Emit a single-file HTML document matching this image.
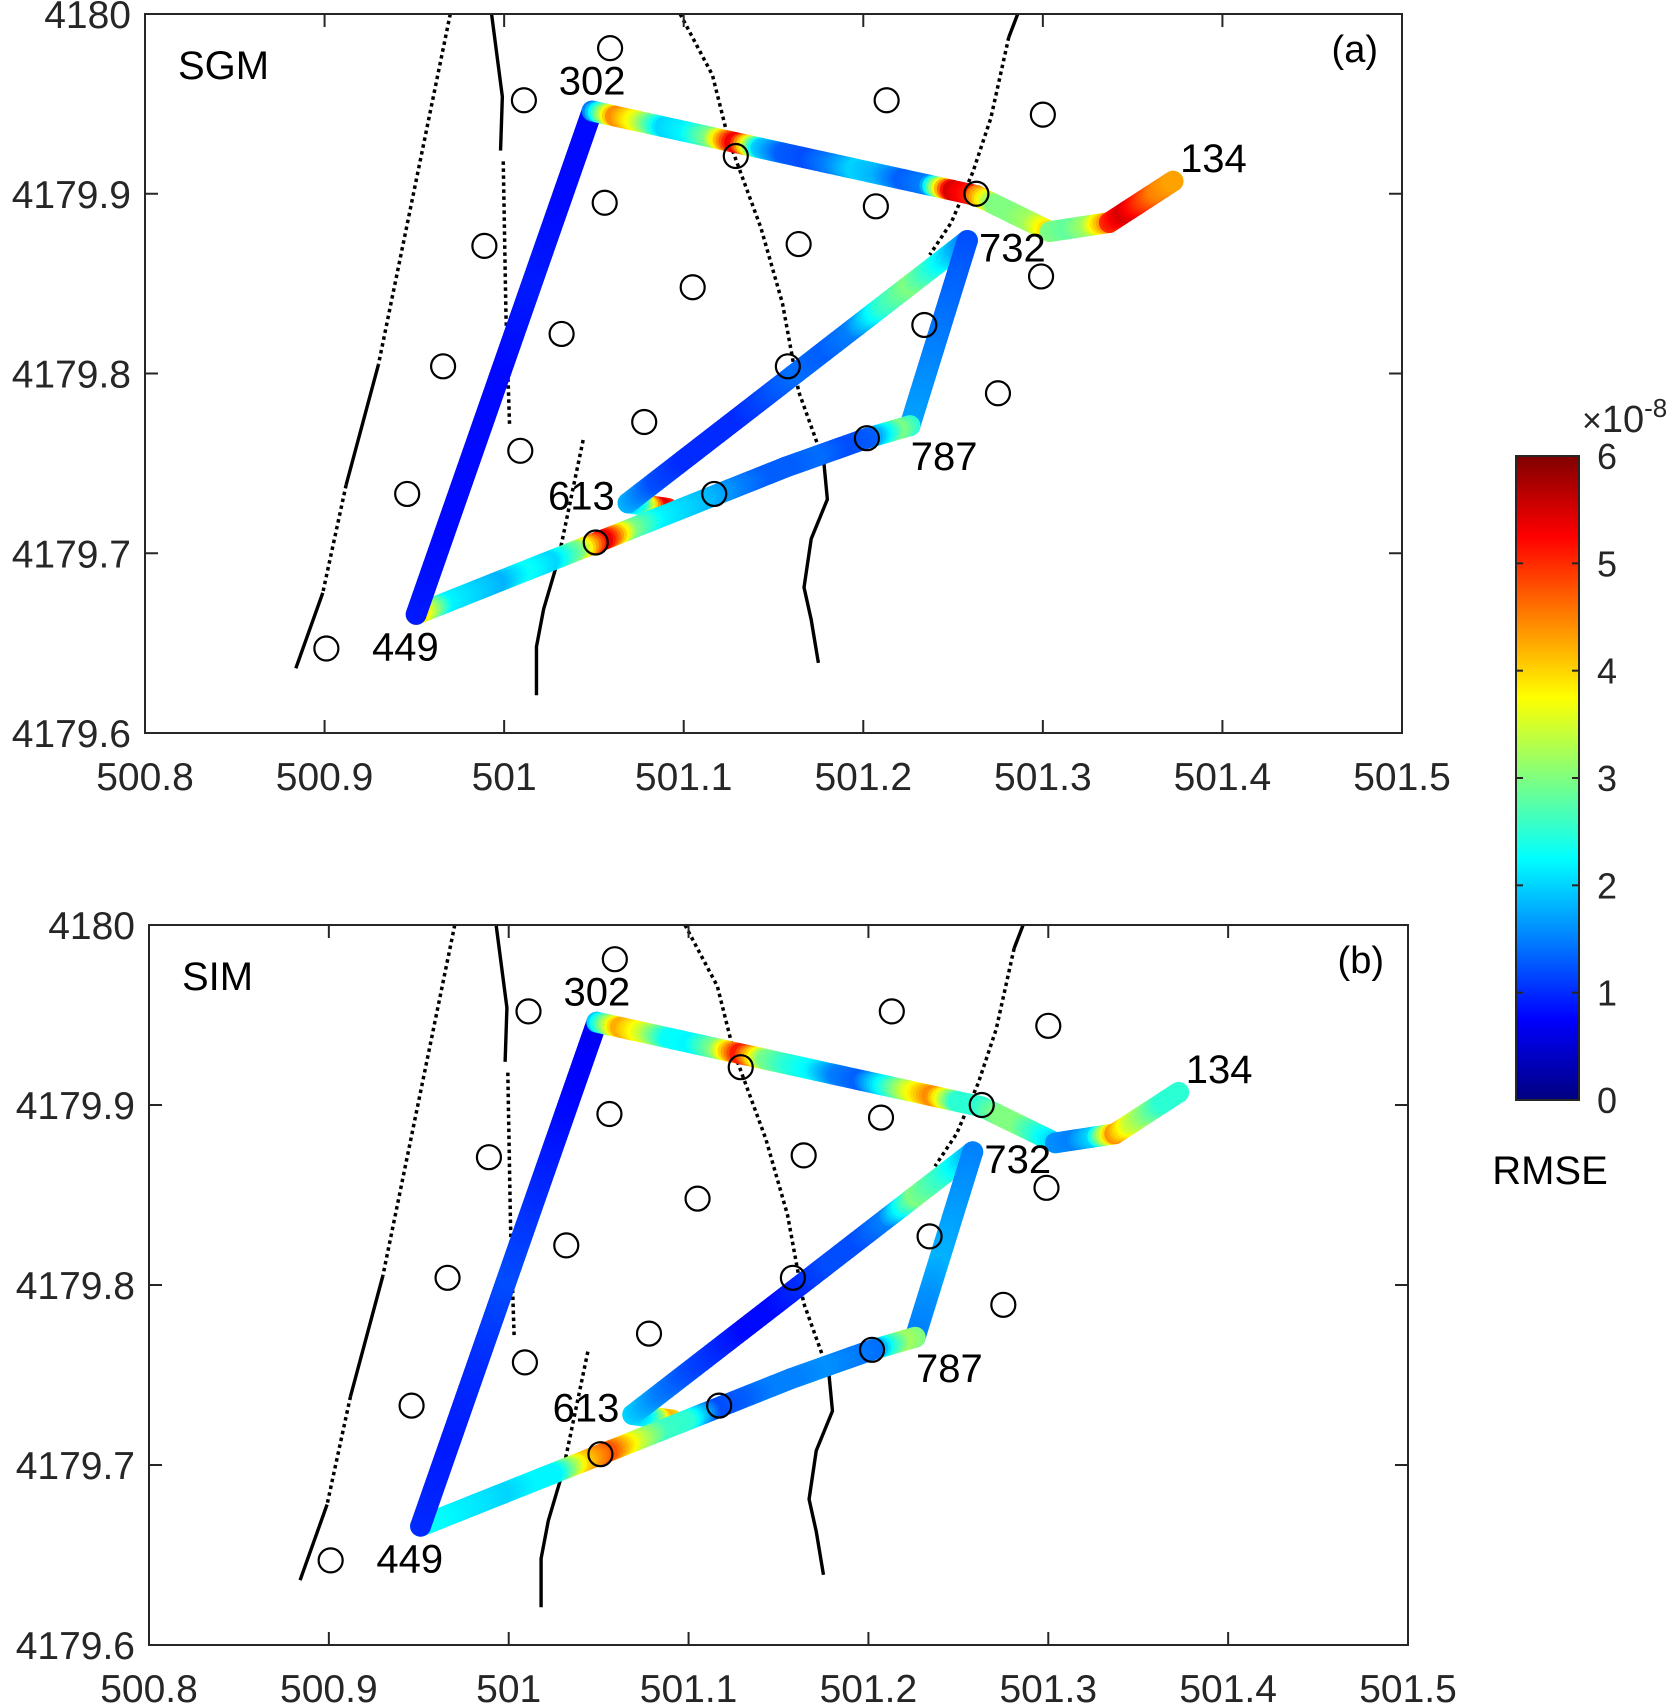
<!DOCTYPE html>
<html><head><meta charset="utf-8"><style>
body{margin:0;background:#fff}
svg{display:block}
text{font-family:"Liberation Sans",Arial,sans-serif}
</style></head><body>
<svg id="fig" width="1677" height="1705" viewBox="0 0 1677 1705" xmlns="http://www.w3.org/2000/svg">
</svg>
<script>
// ---- data ----
const xTicks = [500.8, 500.9, 501, 501.1, 501.2, 501.3, 501.4, 501.5];
const xTickLabels = ["500.8","500.9","501","501.1","501.2","501.3","501.4","501.5"];
const yTicks = [4179.6, 4179.7, 4179.8, 4179.9, 4180];
const yTickLabels = ["4179.6","4179.7","4179.8","4179.9","4180"];
const cbTicks = [0,1,2,3,4,5,6];
// track vertices (easting, northing)
const trackX = [501.091, 501.069, 501.258, 501.226, 501.202, 501.157, 500.951, 501.049, 501.263, 501.304, 501.337, 501.3725];
const trackY = [4179.725, 4179.728, 4179.874, 4179.771, 4179.764, 4179.748, 4179.666, 4179.946, 4179.899, 4179.879, 4179.884, 4179.907];
// RMSE (x1e-8) samples along each segment, panel a (SGM)
const rmseA = [
 [5,5.5,4,2.5,2],
 [1.8,1.2,1,1,1,1.2,1.4,1.3,1.5,2.5,3,2.3,1.5],
 [1.2,1.3,1.4,1.5,1.6,1.7],
 [2.5,3,2.2,1.5],
 [1.3,1.2,1.4,1.3],
 [1.3,1.3,1.5,1.8,2.0,2.2,3,5.5,3,2,2.3,1.8,2.0,2.2,4],
 [0.9,0.8,0.8,0.8,0.9,0.8,0.8],
 [1.5,4.5,3.5,2,2.2,3,5.5,2,1.3,1.2,1.5,2,1.8,1.3,1.5,5.5,5],
 [4.5,3,3,3.2,4],
 [3,2.8,3.2,4.5],
 [5,5.5,5,4.5,4.3]
];
// panel b (SIM)
const rmseB = [
 [4,4.2,3,2.2,2],
 [2,1.5,1.2,1,0.8,0.8,1,1.2,1.2,1.5,3,2.5,1.8],
 [1.5,1.6,1.7,1.8,1.6,1.5],
 [3,3.2,2.5,1.5],
 [1.4,1.5,1.6,1.5],
 [1.5,1.5,1.3,1.2,2.5,2.6,3.5,4.8,4,2.2,2.2,2,2.1,2.2,2.3],
 [1,0.9,1,1.2,1,0.8,0.7],
 [2,4.3,3.5,2.3,2.2,3,5.2,3,2.5,2.2,1.5,1.3,2.3,3.5,4.5,2.5,2.5],
 [2.5,3,3,2.5,2],
 [1.6,1.5,2,4.3],
 [4.4,3.5,3,2.5,2.5]
];
// stations
const stationX = [501.059,501.011,501.213,501.300,501.129,501.263,501.056,501.207,500.989,501.164,501.299,501.105,501.032,501.234,501.158,500.966,501.275,501.078,501.009,501.202,500.946,501.117,501.051,500.901];
const stationY = [4179.981,4179.952,4179.952,4179.944,4179.921,4179.900,4179.895,4179.893,4179.871,4179.872,4179.854,4179.848,4179.822,4179.827,4179.804,4179.804,4179.789,4179.773,4179.757,4179.764,4179.733,4179.733,4179.706,4179.647];
// point labels
const labelText = ["302","134","732","787","613","449"];
const labelX = [501.049,501.395,501.283,501.245,501.043,500.945];
const labelY = [4179.963,4179.920,4179.870,4179.754,4179.732,4179.648];
// fault lines: [style, xs, ys]
const faults = [
 ["dot",[500.970,500.930],[4180,4179.805]],
 ["solid",[500.930,500.912],[4179.805,4179.738]],
 ["dot",[500.912,500.899],[4179.738,4179.678]],
 ["solid",[500.899,500.884],[4179.678,4179.636]],
 ["solid",[500.993,500.999,500.998],[4180,4179.954,4179.924]],
 ["dot",[500.9995,501.001,501.003],[4179.918,4179.833,4179.772]],
 ["dot",[501.044,501.030],[4179.763,4179.696]],
 ["solid",[501.030,501.022,501.018,501.018],[4179.696,4179.669,4179.648,4179.621]],
 ["dot",[501.098,501.116,501.125,501.143,501.155,501.164,501.178],[4180,4179.966,4179.930,4179.881,4179.839,4179.790,4179.751]],
 ["solid",[501.178,501.180,501.171,501.167,501.171,501.175],[4179.751,4179.730,4179.708,4179.681,4179.663,4179.639]],
 ["solid",[501.286,501.281],[4180,4179.987]],
 ["dot",[501.281,501.271,501.261,501.249,501.237],[4179.987,4179.942,4179.912,4179.884,4179.866]]
];

const NS="http://www.w3.org/2000/svg";
const svg=document.getElementById('fig');
function el(tag,attrs,parent){const e=document.createElementNS(NS,tag);for(const k in attrs)e.setAttribute(k,attrs[k]);(parent||svg).appendChild(e);return e;}
function jet(v){let t=Math.max(0,Math.min(1,v/6));
 const f=(x)=>Math.max(0,Math.min(1,1.5-Math.abs(4*t-x)));
 return `rgb(${Math.round(255*f(3))},${Math.round(255*f(2))},${Math.round(255*f(1))})`;}

function panel(L,T,R,B,rm,title,tag,pname){
 const g=el('g',{});
 
 
 const sx=x=>L+(x-500.8)/0.7*(R-L), sy=y=>B-(y-4179.6)/0.4*(B-T);
 el('rect',{x:L,y:T,width:R-L,height:B-T,fill:'#fff'},g);
 const clip='c'+pname;
 const cp=el('clipPath',{id:clip},g);el('rect',{x:L,y:T,width:R-L,height:B-T},cp);
 const inner=el('g',{'clip-path':`url(#${clip})`},g);
 faults.forEach(f=>{
  const p=el('polyline',{points:f[1].map((x,i)=>sx(x)+','+sy(f[2][i])).join(' '),fill:'none',stroke:'#000','stroke-width':f[0]=='dot'?3.5:3.4},inner);
  if(f[0]=='dot')p.setAttribute('stroke-dasharray','3.5 3.5');
  
  
 });
 // track
 for(let s=0;s<rm.length;s++){
  const x0=sx(trackX[s]),y0=sy(trackY[s]),x1=sx(trackX[s+1]),y1=sy(trackY[s+1]);
  const len=Math.hypot(x1-x0,y1-y0);const n=Math.max(2,Math.ceil(len/3));
  const vals=rm[s];
  for(let i=0;i<=n;i++){const t=i/n;const u=t*(vals.length-1);const k=Math.min(vals.length-2,Math.floor(u));const v=vals[k]+(vals[k+1]-vals[k])*(u-k);
   const c=el('circle',{cx:x0+(x1-x0)*t,cy:y0+(y1-y0)*t,r:10.5,fill:jet(v)},inner);
   
   
  }
 }
 stationX.forEach((x,i)=>{const c=el('circle',{cx:sx(x),cy:sy(stationY[i]),r:12,fill:'none',stroke:'#000','stroke-width':2.2},inner);
  
  });
 labelText.forEach((t,i)=>{const e=el('text',{x:sx(labelX[i]),y:sy(labelY[i])+14,'text-anchor':'middle','font-size':40,fill:'#000'},inner);e.textContent=t;
  
  });
 // box & ticks
 el('rect',{x:L,y:T,width:R-L,height:B-T,fill:'none',stroke:'#262626','stroke-width':2},g);
 xTicks.forEach((x,i)=>{const X=sx(x);
  el('line',{x1:X,y1:B,x2:X,y2:B-13,stroke:'#262626','stroke-width':2},g);
  el('line',{x1:X,y1:T,x2:X,y2:T+13,stroke:'#262626','stroke-width':2},g);
  const t=el('text',{x:X,y:B+57,'text-anchor':'middle','font-size':39,fill:'#262626'},g);t.textContent=xTickLabels[i];
  
  });
 yTicks.forEach((y,i)=>{const Y=sy(y);
  el('line',{x1:L,y1:Y,x2:L+13,y2:Y,stroke:'#262626','stroke-width':2},g);
  el('line',{x1:R,y1:Y,x2:R-13,y2:Y,stroke:'#262626','stroke-width':2},g);
  const t=el('text',{x:L-14,y:Y+14,'text-anchor':'end','font-size':39,fill:'#262626'},g);t.textContent=yTickLabels[i];
  
  });
 const tt=el('text',{x:L+33,y:T+65,'font-size':40,fill:'#000'},g);tt.textContent=title;
 
 
 const tg=el('text',{x:R-24,y:T+48,'text-anchor':'end','font-size':38,fill:'#000'},g);tg.textContent=tag;
 
 
}
panel(145,14,1402,733,rmseA,'SGM','(a)','panel-a-sgm');
panel(149,925,1408,1645,rmseB,'SIM','(b)','panel-b-sim');

// colorbar
const cb=el('g',{});


const cL=1516,cR=1579,cT=456,cB=1100;
const gr=el('linearGradient',{id:'jetg',x1:0,y1:1,x2:0,y2:0},cb);
for(let i=0;i<=24;i++){el('stop',{offset:i/24,'stop-color':jet(6*i/24)},gr);}
el('rect',{x:cL,y:cT,width:cR-cL,height:cB-cT,fill:'url(#jetg)',stroke:'#262626','stroke-width':2},cb);
cbTicks.forEach(v=>{const Y=cB-v/6*(cB-cT);
 el('line',{x1:cR,y1:Y,x2:cR-7,y2:Y,stroke:'#262626','stroke-width':2},cb);
 el('line',{x1:cL,y1:Y,x2:cL+7,y2:Y,stroke:'#262626','stroke-width':2},cb);
 const t=el('text',{x:cR+18,y:Y+13,'font-size':36,fill:'#262626'},cb);t.textContent=v;
 
 });
const ex=el('text',{x:1582,y:432,'font-size':38,fill:'#262626'},cb);
ex.innerHTML='<tspan font-size="34">×</tspan>10<tspan dy="-15" font-size="26">-8</tspan>';


const rl=el('text',{x:1550,y:1184,'text-anchor':'middle','font-size':40,fill:'#000'},cb);rl.textContent='RMSE';


</script>
</body></html>
